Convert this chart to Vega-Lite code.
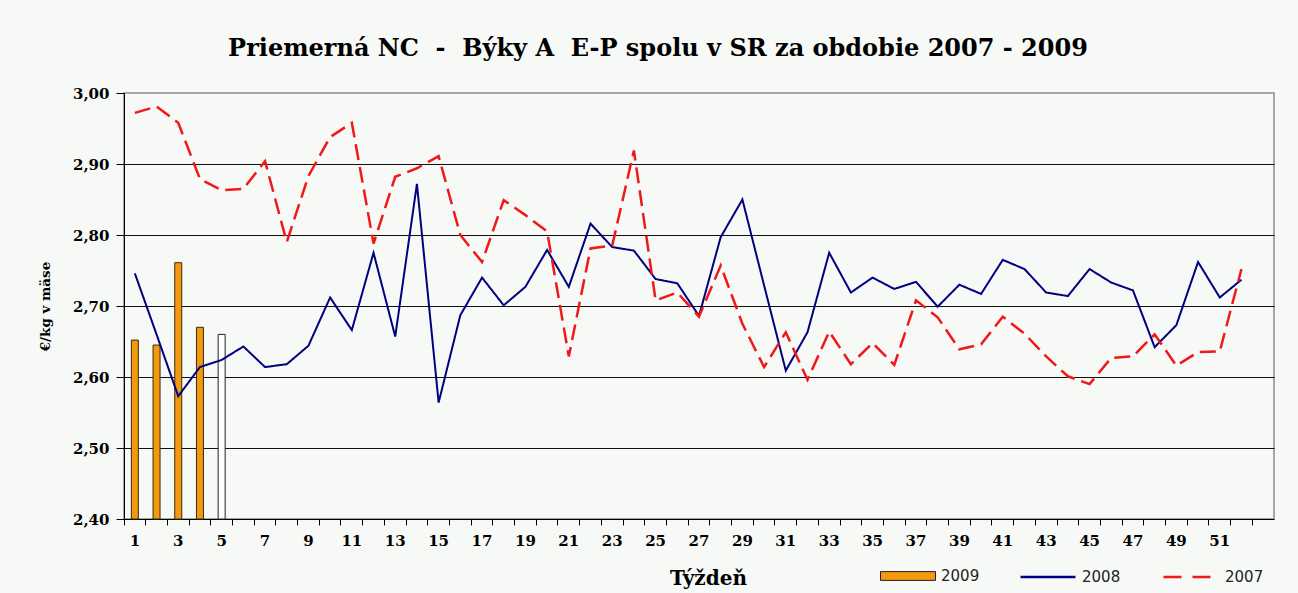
{
  "$schema": "https://vega.github.io/schema/vega-lite/v6.json",
  "autosize": "none",
  "width": 1150,
  "height": 426,
  "padding": {"left": 124, "top": 93, "right": 24, "bottom": 74},
  "background": "#f6f9f6",
  "config": {
    "view": {"stroke": "#8c8c8c", "strokeWidth": 1.5, "fill": "#f6f9f6"}
  },
  "title": {
    "text": "Priemerná NC \u00a0-\u00a0 Býky A\u00a0 E-P spolu v SR za obdobie 2007 - 2009",
    "font": "DejaVu Serif",
    "fontSize": 24,
    "fontWeight": "bold",
    "color": "#000000",
    "anchor": "middle",
    "dx": -41,
    "offset": 25
  },
  "data": {
    "values": [
      {"week": 1, "year": "2009", "price": 2.652},
      {"week": 2, "year": "2009", "price": 2.645},
      {"week": 3, "year": "2009", "price": 2.761},
      {"week": 4, "year": "2009", "price": 2.670},
      {"week": 5, "year": "2009", "price": 2.660},
      {"week": 1, "year": "2008", "price": 2.746},
      {"week": 2, "year": "2008", "price": 2.660},
      {"week": 3, "year": "2008", "price": 2.573},
      {"week": 4, "year": "2008", "price": 2.614},
      {"week": 5, "year": "2008", "price": 2.624},
      {"week": 6, "year": "2008", "price": 2.643},
      {"week": 7, "year": "2008", "price": 2.614},
      {"week": 8, "year": "2008", "price": 2.618},
      {"week": 9, "year": "2008", "price": 2.644},
      {"week": 10, "year": "2008", "price": 2.712},
      {"week": 11, "year": "2008", "price": 2.666},
      {"week": 12, "year": "2008", "price": 2.775},
      {"week": 13, "year": "2008", "price": 2.657},
      {"week": 14, "year": "2008", "price": 2.872},
      {"week": 15, "year": "2008", "price": 2.564},
      {"week": 16, "year": "2008", "price": 2.687},
      {"week": 17, "year": "2008", "price": 2.740},
      {"week": 18, "year": "2008", "price": 2.701},
      {"week": 19, "year": "2008", "price": 2.727},
      {"week": 20, "year": "2008", "price": 2.779},
      {"week": 21, "year": "2008", "price": 2.727},
      {"week": 22, "year": "2008", "price": 2.816},
      {"week": 23, "year": "2008", "price": 2.783},
      {"week": 24, "year": "2008", "price": 2.778},
      {"week": 25, "year": "2008", "price": 2.738},
      {"week": 26, "year": "2008", "price": 2.732},
      {"week": 27, "year": "2008", "price": 2.686},
      {"week": 28, "year": "2008", "price": 2.797},
      {"week": 29, "year": "2008", "price": 2.850},
      {"week": 30, "year": "2008", "price": 2.729},
      {"week": 31, "year": "2008", "price": 2.609},
      {"week": 32, "year": "2008", "price": 2.663},
      {"week": 33, "year": "2008", "price": 2.775},
      {"week": 34, "year": "2008", "price": 2.719},
      {"week": 35, "year": "2008", "price": 2.740},
      {"week": 36, "year": "2008", "price": 2.724},
      {"week": 37, "year": "2008", "price": 2.734},
      {"week": 38, "year": "2008", "price": 2.699},
      {"week": 39, "year": "2008", "price": 2.730},
      {"week": 40, "year": "2008", "price": 2.717},
      {"week": 41, "year": "2008", "price": 2.765},
      {"week": 42, "year": "2008", "price": 2.752},
      {"week": 43, "year": "2008", "price": 2.719},
      {"week": 44, "year": "2008", "price": 2.714},
      {"week": 45, "year": "2008", "price": 2.752},
      {"week": 46, "year": "2008", "price": 2.733},
      {"week": 47, "year": "2008", "price": 2.722},
      {"week": 48, "year": "2008", "price": 2.642},
      {"week": 49, "year": "2008", "price": 2.673},
      {"week": 50, "year": "2008", "price": 2.762},
      {"week": 51, "year": "2008", "price": 2.712},
      {"week": 52, "year": "2008", "price": 2.737},
      {"week": 1, "year": "2007", "price": 2.972},
      {"week": 2, "year": "2007", "price": 2.981},
      {"week": 3, "year": "2007", "price": 2.958},
      {"week": 4, "year": "2007", "price": 2.879},
      {"week": 5, "year": "2007", "price": 2.863},
      {"week": 6, "year": "2007", "price": 2.865},
      {"week": 7, "year": "2007", "price": 2.904},
      {"week": 8, "year": "2007", "price": 2.790},
      {"week": 9, "year": "2007", "price": 2.883},
      {"week": 10, "year": "2007", "price": 2.938},
      {"week": 11, "year": "2007", "price": 2.958},
      {"week": 12, "year": "2007", "price": 2.788},
      {"week": 13, "year": "2007", "price": 2.882},
      {"week": 14, "year": "2007", "price": 2.894},
      {"week": 15, "year": "2007", "price": 2.911},
      {"week": 16, "year": "2007", "price": 2.800},
      {"week": 17, "year": "2007", "price": 2.762},
      {"week": 18, "year": "2007", "price": 2.849},
      {"week": 19, "year": "2007", "price": 2.828},
      {"week": 20, "year": "2007", "price": 2.805},
      {"week": 21, "year": "2007", "price": 2.629},
      {"week": 22, "year": "2007", "price": 2.781},
      {"week": 23, "year": "2007", "price": 2.785},
      {"week": 24, "year": "2007", "price": 2.919},
      {"week": 25, "year": "2007", "price": 2.708},
      {"week": 26, "year": "2007", "price": 2.719},
      {"week": 27, "year": "2007", "price": 2.685},
      {"week": 28, "year": "2007", "price": 2.757},
      {"week": 29, "year": "2007", "price": 2.675},
      {"week": 30, "year": "2007", "price": 2.614},
      {"week": 31, "year": "2007", "price": 2.663},
      {"week": 32, "year": "2007", "price": 2.596},
      {"week": 33, "year": "2007", "price": 2.664},
      {"week": 34, "year": "2007", "price": 2.618},
      {"week": 35, "year": "2007", "price": 2.648},
      {"week": 36, "year": "2007", "price": 2.617},
      {"week": 37, "year": "2007", "price": 2.708},
      {"week": 38, "year": "2007", "price": 2.684},
      {"week": 39, "year": "2007", "price": 2.639},
      {"week": 40, "year": "2007", "price": 2.646},
      {"week": 41, "year": "2007", "price": 2.685},
      {"week": 42, "year": "2007", "price": 2.661},
      {"week": 43, "year": "2007", "price": 2.629},
      {"week": 44, "year": "2007", "price": 2.601},
      {"week": 45, "year": "2007", "price": 2.590},
      {"week": 46, "year": "2007", "price": 2.627},
      {"week": 47, "year": "2007", "price": 2.629},
      {"week": 48, "year": "2007", "price": 2.660},
      {"week": 49, "year": "2007", "price": 2.616},
      {"week": 50, "year": "2007", "price": 2.635},
      {"week": 51, "year": "2007", "price": 2.636},
      {"week": 52, "year": "2007", "price": 2.752}
    ]
  },
  "encoding": {
    "x": {
      "field": "week",
      "type": "ordinal",
      "scale": {
        "type": "band",
        "domain": [1,2,3,4,5,6,7,8,9,10,11,12,13,14,15,16,17,18,19,20,21,22,23,24,25,26,27,28,29,30,31,32,33,34,35,36,37,38,39,40,41,42,43,44,45,46,47,48,49,50,51,52,53],
        "paddingInner": 0,
        "paddingOuter": 0
      },
      "axis": {
        "title": "Týždeň",
        "titleFont": "DejaVu Serif",
        "titleFontSize": 20,
        "titleFontWeight": "bold",
        "titleColor": "#000000",
        "titleX": 584,
        "titleY": 65,
        "titleBaseline": "alphabetic",
        "labelExpr": "datum.value % 2 === 1 && datum.value <= 51 ? datum.label : ''",
        "labelAngle": 0,
        "labelFont": "DejaVu Serif",
        "labelFontSize": 15,
        "labelFontWeight": "bold",
        "labelColor": "#000000",
        "labelPadding": 8,
        "bandPosition": 0,
        "tickColor": "#000000",
        "tickSize": 6,
        "domainColor": "#000000",
        "domainWidth": 1,
        "grid": false
      }
    },
    "y": {
      "field": "price",
      "type": "quantitative",
      "scale": {"domain": [2.4, 3.0], "zero": false, "nice": false},
      "axis": {
        "title": "€/kg v mäse",
        "titleFont": "DejaVu Serif",
        "titleFontSize": 13.5,
        "titleFontWeight": "bold",
        "titleColor": "#000000",
        "titleX": -79,
        "titleY": 213,
        "titleAngle": -90,
        "titleAlign": "center",
        "titleBaseline": "middle",
        "values": [2.4, 2.5, 2.6, 2.7, 2.8, 2.9, 3.0],
        "labelExpr": "replace(format(datum.value, '.2f'), '.', ',')",
        "labelFont": "DejaVu Serif",
        "labelFontSize": 15,
        "labelFontWeight": "bold",
        "labelColor": "#000000",
        "labelPadding": 7,
        "tickColor": "#000000",
        "tickSize": 8,
        "domainColor": "#000000",
        "grid": true,
        "gridColor": {"condition": {"test": "datum.value >= 2.99 || datum.value <= 2.41", "value": "transparent"}, "value": "#111111"},
        "gridWidth": 1
      }
    }
  },
  "layer": [
    {
      "transform": [{"filter": "datum.year === '2009' && datum.week <= 4"}],
      "mark": {"type": "bar", "size": 7, "stroke": "#3a2a10", "strokeWidth": 1},
      "encoding": {
        "y2": {"datum": 2.4},
        "fill": {
          "field": "year",
          "type": "nominal",
          "scale": {"domain": ["2009"], "range": ["#f2990f"]},
          "legend": {
            "title": null,
            "orient": "none",
            "legendX": 756,
            "legendY": 455,
            "direction": "horizontal",
            "symbolType": "M-1,-0.16H1V0.16H-1Z",
            "symbolSize": 3025,
            "symbolStrokeColor": "#222222",
            "symbolStrokeWidth": 1,
            "symbolOpacity": 1,
            "labelFont": "DejaVu Sans",
            "labelFontSize": 15,
            "labelColor": "#222222",
            "labelOffset": 5,
            "padding": 0
          }
        }
      }
    },
    {
      "transform": [{"filter": "datum.year === '2009' && datum.week === 5"}],
      "mark": {"type": "bar", "size": 7, "stroke": "#222222", "strokeWidth": 1, "fill": "#ffffff"},
      "encoding": {"y2": {"datum": 2.4}}
    },
    {
      "transform": [{"filter": "datum.year === '2008'"}],
      "mark": {"type": "line", "strokeWidth": 2},
      "encoding": {
        "stroke": {
          "field": "year",
          "type": "nominal",
          "scale": {"domain": ["2008", "2007"], "range": ["#000080", "#f01818"]},
          "legend": {
            "title": null,
            "orient": "none",
            "legendX": 895,
            "legendY": 455,
            "direction": "horizontal",
            "symbolType": "M-1,0H1",
            "symbolSize": 3025,
            "symbolStrokeWidth": 2.5,
            "labelFont": "DejaVu Sans",
            "labelFontSize": 15,
            "labelColor": "#222222",
            "labelOffset": 5,
            "columnPadding": 37,
            "padding": 0
          }
        },
        "strokeDash": {
          "field": "year",
          "type": "nominal",
          "scale": {"domain": ["2008", "2007"], "range": [[1, 0], [18, 11]]},
          "legend": {
            "title": null,
            "orient": "none",
            "legendX": 895,
            "legendY": 455,
            "direction": "horizontal",
            "symbolType": "M-1,0H1",
            "symbolSize": 3025,
            "symbolStrokeWidth": 2.5,
            "labelFont": "DejaVu Sans",
            "labelFontSize": 15,
            "labelColor": "#222222",
            "labelOffset": 5,
            "columnPadding": 37,
            "padding": 0
          }
        }
      }
    },
    {
      "transform": [{"filter": "datum.year === '2007'"}],
      "mark": {"type": "line", "strokeWidth": 2.5, "strokeDash": [16, 7]},
      "encoding": {
        "stroke": {"field": "year", "type": "nominal"}
      }
    }
  ]
}
